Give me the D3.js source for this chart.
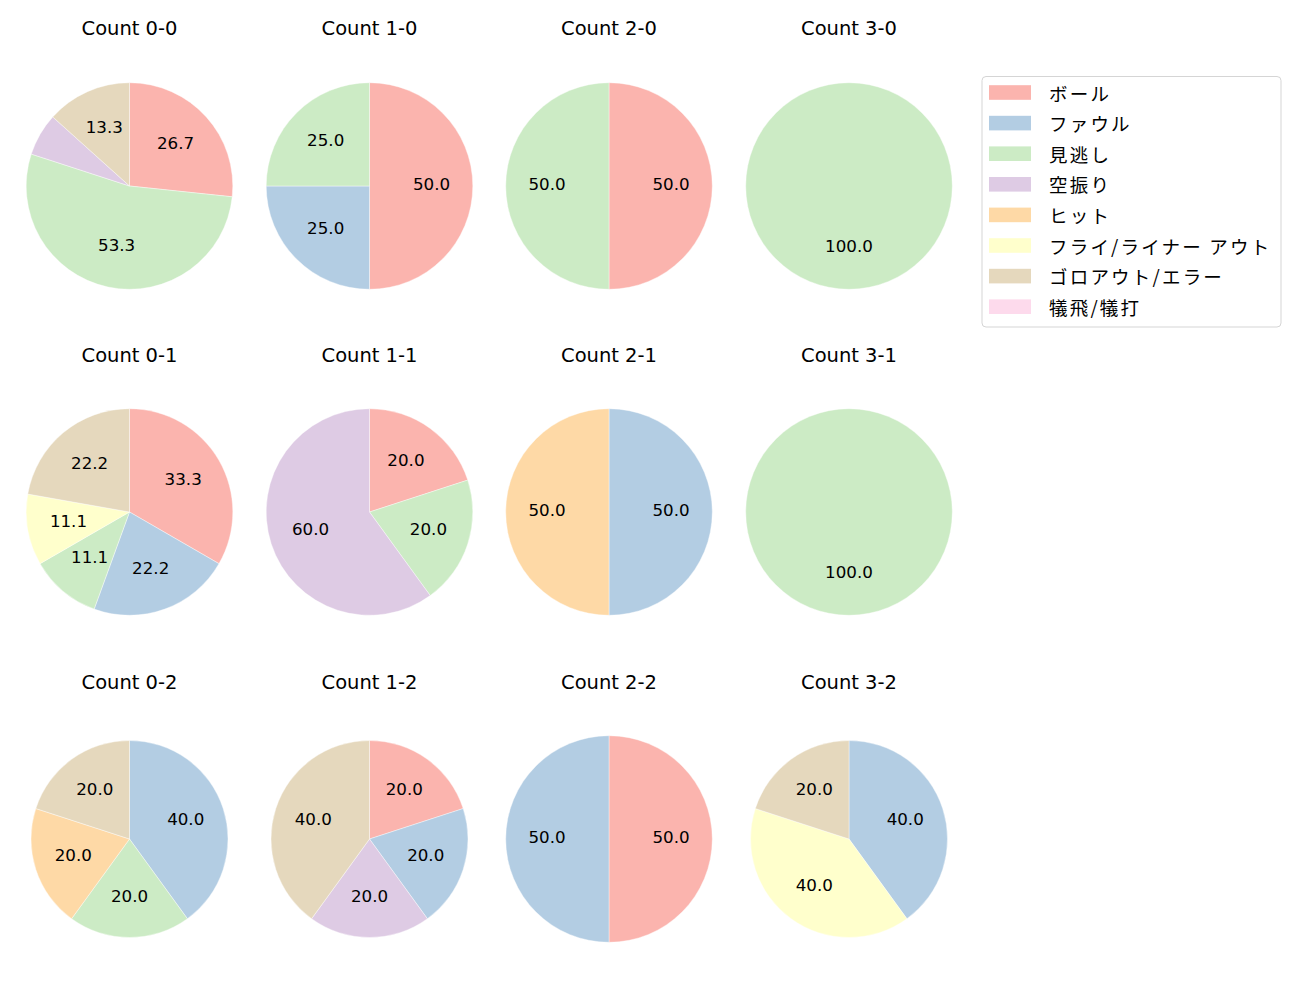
<!DOCTYPE html>
<html>
<head>
<meta charset="utf-8">
<script src="https://cdn.jsdelivr.net/npm/d3@7"></script>
<style>
  html, body { margin: 0; padding: 0; background: #fff; }
  svg { display: block; }
  text { fill: #000; }
  .lat { font-family: "DejaVu Sans", "Noto Sans", sans-serif; }
  .cjk { font-family: "Noto Sans CJK JP", "Noto Sans", sans-serif; }
</style>
</head>
<body>
<div id="chart"></div>
<script>
// ---- data ----
const categories = ["ボール", "ファウル", "見逃し", "空振り", "ヒット", "フライ/ライナー アウト", "ゴロアウト/エラー", "犠飛/犠打"];
const colors = ["#fbb4ae", "#b3cde3", "#ccebc5", "#decbe4", "#fed9a6", "#ffffcc", "#e5d8bd", "#fddaec"];
const countTitles = ["Count 0-0", "Count 1-0", "Count 2-0", "Count 3-0",
                     "Count 0-1", "Count 1-1", "Count 2-1", "Count 3-1",
                     "Count 0-2", "Count 1-2", "Count 2-2", "Count 3-2"];
// pitch outcome counts per ball-strike count, in category order
const count00 = [4, 0, 8, 1, 0, 0, 2, 0];
const count10 = [2, 1, 1, 0, 0, 0, 0, 0];
const count20 = [1, 0, 1, 0, 0, 0, 0, 0];
const count30 = [0, 0, 1, 0, 0, 0, 0, 0];
const count01 = [3, 2, 1, 0, 0, 1, 2, 0];
const count11 = [1, 0, 1, 3, 0, 0, 0, 0];
const count21 = [0, 1, 0, 0, 1, 0, 0, 0];
const count31 = [0, 0, 1, 0, 0, 0, 0, 0];
const count02 = [0, 2, 1, 0, 1, 0, 1, 0];
const count12 = [1, 1, 0, 1, 0, 0, 2, 0];
const count22 = [1, 1, 0, 0, 0, 0, 0, 0];
const count32 = [0, 2, 0, 0, 0, 2, 1, 0];
const countValues = [count00, count10, count20, count30,
                     count01, count11, count21, count31,
                     count02, count12, count22, count32];
const minLabelPct = 10; // smaller slices carry no percentage label

// ---- layout ----
const W = 1300, H = 1000;
const colX = [129.5, 369.5, 609, 849];
const rowY = [186, 512, 839];
const titleY = [35, 362, 689];
const radii = [103.3, 103.3, 103.3, 103.3,
               103.3, 103.3, 103.3, 103.3,
               98.5, 98.5, 103.3, 98.5];

const svg = d3.select("#chart").append("svg")
  .attr("width", W).attr("height", H);

const color = d3.scaleOrdinal().domain(categories).range(colors);

const pie = d3.pie()
  .sort(null)
  .value(d => d.v)
  .startAngle(0)
  .endAngle(2 * Math.PI);

countValues.forEach((vals, i) => {
  const cx = colX[i % 4], row = Math.floor(i / 4), cy = rowY[row];
  const r = radii[i];
  const g = svg.append("g").attr("transform", `translate(${cx},${cy})`);
  const total = d3.sum(vals);
  const data = vals.map((v, k) => ({ cat: categories[k], v }));
  const arcs = pie(data).filter(a => a.data.v > 0);
  const arc = d3.arc().innerRadius(0).outerRadius(r);
  const labelArc = d3.arc().innerRadius(r * 0.6).outerRadius(r * 0.6);

  g.selectAll("path").data(arcs).join("path")
    .attr("d", arc)
    .attr("fill", d => color(d.data.cat))
    .attr("stroke", "#ffffff")
    .attr("stroke-width", 0.4);

  g.selectAll("text.pct").data(arcs.filter(d => d.data.v / total * 100 >= minLabelPct)).join("text")
    .attr("class", "pct lat")
    .attr("transform", d => `translate(${labelArc.centroid(d)})`)
    .attr("text-anchor", "middle")
    .attr("dy", "0.24em")
    .style("font-size", "16.7px")
    .text(d => (d.data.v / total * 100).toFixed(1));

  svg.append("text")
    .attr("class", "lat")
    .attr("x", cx).attr("y", titleY[row])
    .attr("text-anchor", "middle")
    .style("font-size", "19.5px")
    .text(countTitles[i]);
});

// ---- legend ----
const lg = svg.append("g");
lg.append("rect")
  .attr("x", 982).attr("y", 76.5).attr("width", 299).attr("height", 250.5)
  .attr("rx", 4).attr("fill", "#fff").attr("stroke", "#d5d5d5").attr("stroke-width", 1);
const ly = d3.scaleLinear().domain([0, 1]).range([92.5, 123.1]);
categories.forEach((c, i) => {
  lg.append("rect")
    .attr("x", 989).attr("y", ly(i) - 7.3).attr("width", 42).attr("height", 14.6)
    .attr("fill", color(c));
  lg.append("text")
    .attr("class", "cjk")
    .attr("x", 1049).attr("y", ly(i))
    .attr("dominant-baseline", "central")
    .style("font-size", "18.5px")
    .style("letter-spacing", "2.2px")
    .text(c);
});
</script>
</body>
</html>
